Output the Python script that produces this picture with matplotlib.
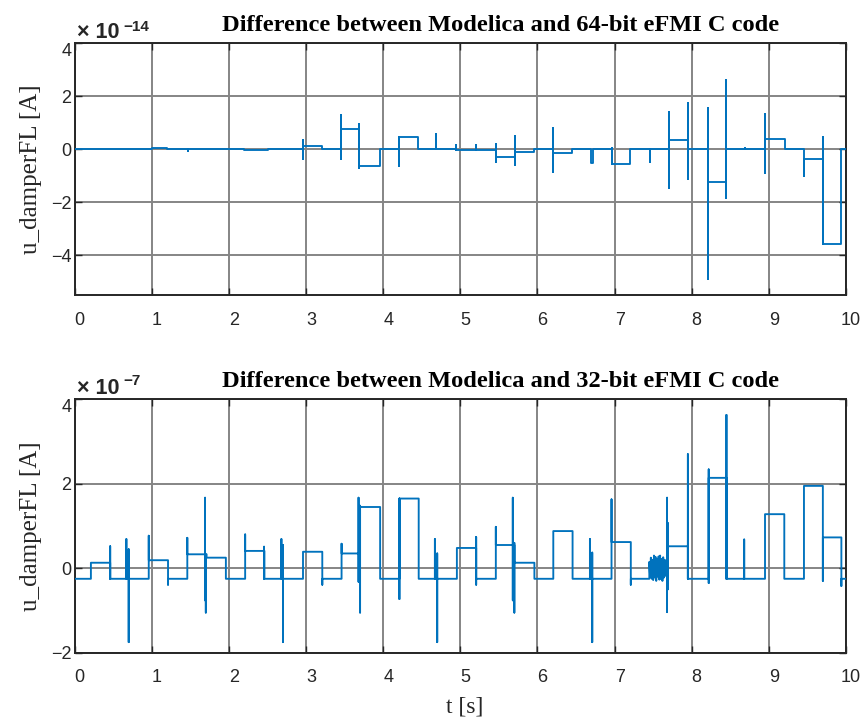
import numpy as np
import matplotlib
matplotlib.use('Agg')
import matplotlib.pyplot as plt
import matplotlib.transforms as mtransforms

# 64-bit: step levels (x 1e-14) and spikes (t, high, low)
top_t = [0.0, 1.0, 1.2, 2.2, 2.5, 2.96, 3.21, 3.45, 3.69, 3.96, 4.21, 4.457, 4.95, 5.46, 5.71,
         5.95, 6.2, 6.45, 6.69, 6.72, 6.96, 7.2, 7.71, 7.95, 8.21, 8.45, 8.95, 9.21, 9.455, 9.70, 9.94]
top_v = [0.0, 0.05, 0.0, -0.03, 0.0, 0.13, 0.0, 0.74, -0.63, 0.0, 0.44, 0.0, -0.03, -0.29, -0.11,
         0.0, -0.14, 0.0, -0.51, 0.0, -0.55, 0.0, 0.34, 0.0, -1.24, 0.0, 0.38, 0.0, -0.38, -3.57, 0.0]
top_spk_t = [1.47, 2.96, 3.45, 3.69, 4.21, 4.69, 4.95, 5.2, 5.46, 5.71, 6.2, 6.96, 7.46,
             7.71, 7.95, 8.21, 8.45, 8.69, 8.95, 9.455, 9.70]
top_spk_hi = [0.0, 0.34, 1.28, 0.94, 0.0, 0.56, 0.15, 0.15, 0.2, 0.51, 0.78, 0.06, 0.0,
              1.4, 1.72, 1.55, 2.6, 0.05, 1.34, 0.0, 0.44]
top_spk_lo = [-0.08, -0.39, -0.39, -0.73, -0.64, 0.0, 0.0, 0.0, -0.49, -0.6, -0.88, -0.35, -0.48,
              -1.48, -1.13, -4.9, -1.83, 0.0, -0.91, -1.01, -0.38]

# 32-bit: step levels (x 1e-7) and spikes
bot_t = [0.0, 0.21, 0.46, 0.96, 1.21, 1.46, 1.71, 1.96, 2.21, 2.46, 2.96, 3.21, 3.46, 3.69,
         3.96, 4.21, 4.46, 4.955, 5.205, 5.46, 5.70, 5.96, 6.205, 6.455, 6.96, 7.21, 7.68,
         7.95, 8.22, 8.45, 8.95, 9.20, 9.455, 9.70, 9.94]
bot_v = [-0.25, 0.13, -0.25, 0.19, -0.25, 0.33, 0.25, -0.25, 0.41, -0.25, 0.39, -0.25, 0.35, 1.45,
         -0.25, 1.65, -0.25, 0.48, -0.25, 0.55, 0.13, -0.25, 0.88, -0.25, 0.62, -0.25, 0.52,
         -0.25, 2.14, -0.25, 1.28, -0.25, 1.95, 0.73, -0.25]
bot_spk_t = [0.46, 0.67, 0.70, 0.96, 1.21, 1.46, 1.69, 1.70, 2.21, 2.455, 2.68, 2.70, 3.21, 3.46,
             3.68, 3.70, 4.21, 4.67, 4.70, 5.205, 5.46, 5.68, 5.70, 6.68, 6.71, 6.96, 7.21,
             7.68, 7.69, 7.95, 8.22, 8.45, 8.68, 9.70, 9.94]
bot_spk_hi = [0.52, 0.69, 0.45, 0.77, 0.19, 0.72, 1.67, 0.3, 0.8, 0.51, 0.69, 0.55, 0.39, 0.58,
              1.67, 1.48, 1.65, 0.69, 0.35, 0.74, 0.98, 1.67, 0.6, 0.69, 0.37, 1.63, 0.62,
              1.67, 1.07, 2.7, 2.34, 3.63, 0.68, 1.95, 0.73]
bot_spk_lo = [-0.25, -0.25, -1.75, -0.25, -0.39, -0.25, -0.76, -1.05, -0.25, -0.25, -0.25, -1.75,
              -0.39, -0.25, -0.32, -1.05, -0.73, -0.25, -1.75, -0.39, -0.25, -0.76, -1.05,
              -0.25, -1.75, -0.25, -0.39, -1.04, -0.5, -0.25, -0.35, -0.25, -0.25, -0.3, -0.42]
# oscillation between 7.45 s and 7.68 s
osc_v = [0.15, -0.2, 0.25, -0.25, 0.2, -0.28, 0.3, -0.22, 0.27, -0.3, 0.22, -0.2, 0.28, -0.27,
         0.3, -0.25, 0.22, -0.3, 0.26, -0.22, 0.2, -0.18, 0.15, -0.1]


def level_at(st, sv, t):
    v = sv[0]
    for a, b in zip(st, sv):
        if a <= t:
            v = b
    return v


def build(st, sv, kt, khi, klo, osc=None, t0=None, t1=None):
    pts = []
    for i in range(len(st)):
        if i > 0:
            pts.append((st[i], 0, sv[i - 1]))
        pts.append((st[i], 5, sv[i]))
    pts.append((10.0, 0, sv[-1]))
    for t, h, l in zip(kt, khi, klo):
        lv = level_at(st, sv, t)
        pts.append((t, 1, lv))
        pts.append((t, 2, h))
        pts.append((t, 3, l))
        pts.append((t, 4, lv))
    if osc is not None:
        lv = level_at(st, sv, t0)
        pts.append((t0, 1, lv))
        for t, v in zip(np.linspace(t0, t1, len(osc)), osc):
            pts.append((t, 2, v))
    pts.sort(key=lambda p: (p[0], p[1]))
    return [p[0] for p in pts], [p[2] for p in pts]


plt.rcParams['font.family'] = ['Liberation Sans', 'DejaVu Sans']
blue = '#0072BD'
dark = '#262626'

fig = plt.figure(figsize=(8.67, 7.19), dpi=100)
W, H = 867.0, 719.0
ax1 = fig.add_axes([74.7 / W, 1 - 295 / H, 771.3 / W, 252 / H])
ax2 = fig.add_axes([74.7 / W, 1 - 652.7 / H, 771.3 / W, 253.4 / H])

x1, y1 = build(top_t, top_v, top_spk_t, top_spk_hi, top_spk_lo)
x2, y2 = build(bot_t, bot_v, bot_spk_t, bot_spk_hi, bot_spk_lo, osc_v, 7.45, 7.68)
ax1.plot(x1, y1, color=blue, lw=1.35, zorder=3)
ax2.plot(x2, y2, color=blue, lw=1.35, zorder=3)

ax1.set_ylim(-5.5, 4)
ax1.set_yticks([-4, -2, 0, 2, 4])
ax2.set_ylim(-2, 4)
ax2.set_yticks([-2, 0, 2, 4])

shift_x = mtransforms.ScaledTranslation(5 / 100, 0, fig.dpi_scale_trans)
shift_y = mtransforms.ScaledTranslation(0, -6 / 100, fig.dpi_scale_trans)
for ax in (ax1, ax2):
    ax.set_xlim(0, 10)
    ax.set_xticks(range(11))
    ax.grid(True, color='#858585', lw=1.4)
    ax.set_axisbelow(True)
    ax.tick_params(direction='in', length=5, width=1, colors=dark, labelsize=13,
                   top=True, right=True)
    ax.tick_params(axis='x', pad=12)
    ax.tick_params(axis='y', pad=2.5)
    for s in ax.spines.values():
        s.set_color(dark)
        s.set_linewidth(1.4)
    for lab in ax.get_xticklabels():
        lab.set_transform(lab.get_transform() + shift_x)
    top_lab = ax.get_yticklabels()[-1]
    top_lab.set_transform(top_lab.get_transform() + shift_y)

serif = ['Liberation Serif', 'DejaVu Serif']
fig.text(222 / W, 1 - 31 / H, 'Difference between Modelica and 64-bit eFMI C code',
         family=serif, weight='bold', fontsize=17.6, ha='left', va='baseline')
fig.text(222 / W, 1 - 387 / H, 'Difference between Modelica and 32-bit eFMI C code',
         family=serif, weight='bold', fontsize=17.6, ha='left', va='baseline')
# exponent labels
fig.text(77 / W, 1 - 38 / H, '\u00d7 10', fontsize=15.5, weight='bold', ha='left',
         va='baseline', color=dark)
fig.text(123 / W, 1 - 31 / H, '\u221214', fontsize=11, weight='bold', ha='left',
         va='baseline', color=dark)
fig.text(77 / W, 1 - 394 / H, '\u00d7 10', fontsize=15.5, weight='bold', ha='left',
         va='baseline', color=dark)
fig.text(123 / W, 1 - 385 / H, '\u22127', fontsize=11, weight='bold', ha='left',
         va='baseline', color=dark)

fig.text(31 / W, 1 - 169 / H, 'u_damperFL [A]', family=serif, fontsize=18, rotation=90,
         ha='center', va='center', color=dark)
fig.text(31 / W, 1 - 526 / H, 'u_damperFL [A]', family=serif, fontsize=18, rotation=90,
         ha='center', va='center', color=dark)
fig.text(465 / W, 1 - 712 / H, 't [s]', family=serif, fontsize=17, ha='center',
         va='baseline', color=dark)

fig.savefig('out.png', dpi=100)
